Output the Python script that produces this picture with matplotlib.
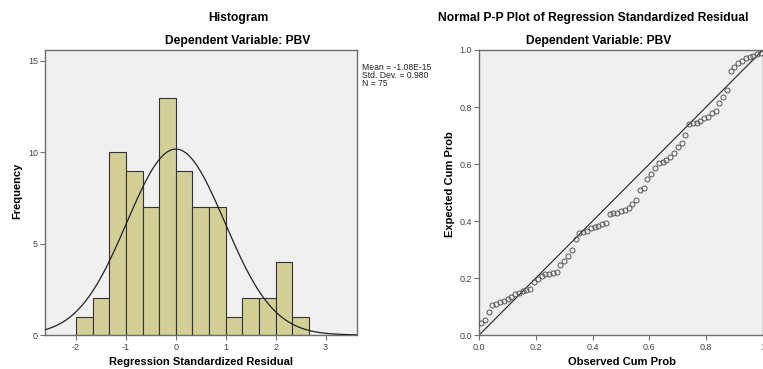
import numpy as np
import matplotlib
matplotlib.use("Agg")
import matplotlib.pyplot as plt

plt.rcParams['font.family'] = ['Liberation Sans', 'DejaVu Sans']

# histogram of standardized residuals (bin width 1/3, starting at -2)
bin_start = -2.0
bin_width = 1.0 / 3.0
counts = [1, 2, 10, 9, 7, 13, 9, 7, 7, 1, 2, 2, 4, 1]
res_mean = -1.08e-15
res_sd = 0.980
n_obs = 75

# normal P-P plot: expected cum prob for each ranked residual
expected = [0.041, 0.053, 0.082, 0.105, 0.110, 0.115, 0.121, 0.127, 0.135, 0.143,
            0.149, 0.156, 0.158, 0.161, 0.187, 0.195, 0.208, 0.213, 0.214, 0.216,
            0.220, 0.246, 0.260, 0.277, 0.298, 0.336, 0.357, 0.360, 0.366, 0.374,
            0.380, 0.384, 0.388, 0.392, 0.423, 0.427, 0.429, 0.435, 0.439, 0.447,
            0.458, 0.474, 0.509, 0.515, 0.546, 0.566, 0.585, 0.602, 0.608, 0.615,
            0.626, 0.638, 0.659, 0.673, 0.702, 0.740, 0.743, 0.745, 0.752, 0.760,
            0.766, 0.780, 0.786, 0.815, 0.836, 0.860, 0.927, 0.941, 0.953, 0.962,
            0.971, 0.976, 0.980, 0.985, 0.990]
ranks = np.arange(1, len(expected) + 1)
observed = (ranks - 0.5) / len(expected)

bg = '#F0F0F0'
frame = '#6E6E6E'
bar_color = '#D3CF97'
tick_color = '#444444'

fig = plt.figure(figsize=(7.63, 3.69), dpi=100)
fig.patch.set_facecolor('white')

def style_axes(ax):
    ax.set_facecolor(bg)
    for s in ax.spines.values():
        s.set_color(frame)
        s.set_linewidth(1.0)
    ax.tick_params(direction='out', length=3.5, width=0.8, color=frame,
                   labelsize=6.5, labelcolor=tick_color, pad=1.5)
    ax.tick_params(axis='x', pad=2)

# ---- histogram ----
ax1 = fig.add_axes([0.059, 0.0921, 0.409, 0.7724])
style_axes(ax1)
lefts = bin_start + bin_width * np.arange(len(counts))
ax1.bar(lefts, counts, width=bin_width, align='edge', color=bar_color,
        edgecolor='#333333', linewidth=0.8, zorder=2)
xs = np.linspace(-2.62, 3.63, 400)
curve = n_obs * bin_width * np.exp(-0.5 * ((xs - res_mean) / res_sd) ** 2) / (res_sd * np.sqrt(2 * np.pi))
ax1.plot(xs, curve, color='#222222', linewidth=0.9, zorder=3)
ax1.set_xlim(-2.62, 3.63)
ax1.set_ylim(0, 15.6)
ax1.set_xticks([-2, -1, 0, 1, 2, 3])
ax1.set_xticklabels(['-2', '-1', '0', '1', '2', '3'])
ax1.set_yticks([0, 5, 10, 15])

fig.text(0.312, 0.951, 'Histogram', ha='center', va='center', fontsize=8.7, fontweight='bold')
fig.text(0.312, 0.889, 'Dependent Variable: PBV', ha='center', va='center', fontsize=8.7, fontweight='bold')
fig.text(0.022, 0.482, 'Frequency', ha='center', va='center', rotation=90, fontsize=8, fontweight='bold')
fig.text(0.264, 0.018, 'Regression Standardized Residual', ha='center', va='center', fontsize=8, fontweight='bold')
fig.text(0.474, 0.828, 'Mean = -1.08E-15\nStd. Dev. = 0.980\nN = 75', ha='left', va='top',
         fontsize=6.2, linespacing=0.85, color='#222222')

# ---- P-P plot ----
ax2 = fig.add_axes([0.628, 0.0921, 0.3718, 0.7724])
style_axes(ax2)
ax2.plot([0, 1], [0, 1], color='#222222', linewidth=0.8, zorder=2)
ax2.plot(observed, expected, linestyle='none', marker='o', markersize=3.6,
         markerfacecolor='none', markeredgecolor='#555555', markeredgewidth=0.7, zorder=3)
ax2.set_xlim(0, 1)
ax2.set_ylim(0, 1)
ax2.set_xticks([0, 0.2, 0.4, 0.6, 0.8, 1.0])
ax2.set_xticklabels(['0.0', '0.2', '0.4', '0.6', '0.8', '1'])
ax2.set_yticks([0, 0.2, 0.4, 0.6, 0.8, 1.0])
ax2.set_yticklabels(['0.0', '0.2', '0.4', '0.6', '0.8', '1.0'])

fig.text(0.777, 0.951, 'Normal P-P Plot of Regression Standardized Residual', ha='center', va='center',
         fontsize=8.7, fontweight='bold')
fig.text(0.784, 0.889, 'Dependent Variable: PBV', ha='center', va='center', fontsize=8.7, fontweight='bold')
fig.text(0.590, 0.50, 'Expected Cum Prob', ha='center', va='center', rotation=90, fontsize=8, fontweight='bold')
fig.text(0.815, 0.018, 'Observed Cum Prob', ha='center', va='center', fontsize=8, fontweight='bold')

fig.savefig('out.png', dpi=100)
